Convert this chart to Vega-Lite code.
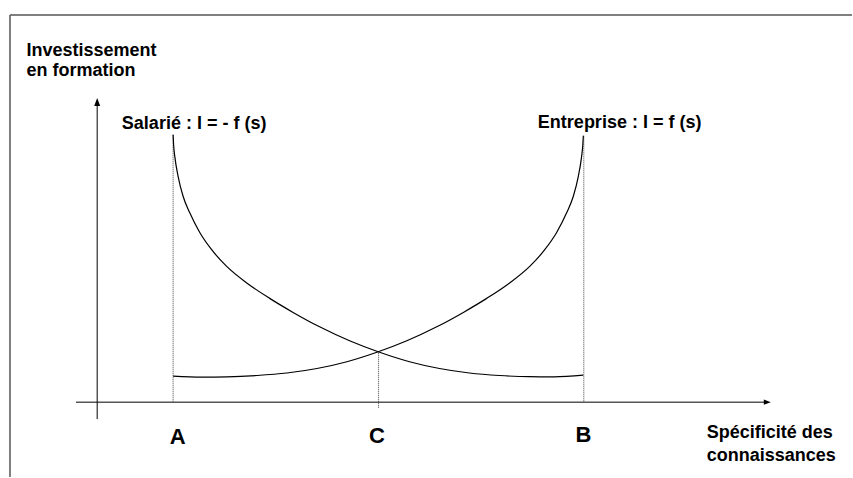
{
  "$schema": "https://vega.github.io/schema/vega-lite/v6.json",
  "width": 853,
  "height": 478,
  "autosize": {"type": "fit", "contains": "padding"},
  "padding": 0,
  "background": "white",
  "config": {"view": {"stroke": null}},
  "datasets": {
    "curves": [
      {"curve": "Salarié", "s": 173.3, "I": 343},
      {"curve": "Salarié", "s": 173.8, "I": 333},
      {"curve": "Salarié", "s": 175, "I": 321.3},
      {"curve": "Salarié", "s": 178.3, "I": 301.3},
      {"curve": "Salarié", "s": 183.3, "I": 281.3},
      {"curve": "Salarié", "s": 190, "I": 264.7},
      {"curve": "Salarié", "s": 200, "I": 245},
      {"curve": "Salarié", "s": 211.7, "I": 228},
      {"curve": "Salarié", "s": 226.7, "I": 211.3},
      {"curve": "Salarié", "s": 246.7, "I": 194.7},
      {"curve": "Salarié", "s": 270, "I": 179},
      {"curve": "Salarié", "s": 293, "I": 165.2},
      {"curve": "Salarié", "s": 320, "I": 150.5},
      {"curve": "Salarié", "s": 350, "I": 136.5},
      {"curve": "Salarié", "s": 380, "I": 125},
      {"curve": "Salarié", "s": 410, "I": 115.5},
      {"curve": "Salarié", "s": 440, "I": 108.7},
      {"curve": "Salarié", "s": 470, "I": 104.2},
      {"curve": "Salarié", "s": 500, "I": 101.7},
      {"curve": "Salarié", "s": 530, "I": 100.5},
      {"curve": "Salarié", "s": 555, "I": 100.4},
      {"curve": "Salarié", "s": 584, "I": 102},
      {"curve": "Entreprise", "s": 173.3, "I": 101},
      {"curve": "Entreprise", "s": 202.3, "I": 100},
      {"curve": "Entreprise", "s": 227.3, "I": 100.3},
      {"curve": "Entreprise", "s": 257.3, "I": 101.7},
      {"curve": "Entreprise", "s": 287.3, "I": 104.2},
      {"curve": "Entreprise", "s": 317.3, "I": 108.7},
      {"curve": "Entreprise", "s": 347.3, "I": 115.5},
      {"curve": "Entreprise", "s": 377.3, "I": 125},
      {"curve": "Entreprise", "s": 407.3, "I": 136.5},
      {"curve": "Entreprise", "s": 437.3, "I": 150.5},
      {"curve": "Entreprise", "s": 464.3, "I": 165.2},
      {"curve": "Entreprise", "s": 487.3, "I": 179},
      {"curve": "Entreprise", "s": 510.6, "I": 194.7},
      {"curve": "Entreprise", "s": 530.6, "I": 211.3},
      {"curve": "Entreprise", "s": 545.6, "I": 228},
      {"curve": "Entreprise", "s": 557.3, "I": 245},
      {"curve": "Entreprise", "s": 567.3, "I": 264.7},
      {"curve": "Entreprise", "s": 574, "I": 281.3},
      {"curve": "Entreprise", "s": 579, "I": 301.3},
      {"curve": "Entreprise", "s": 582.3, "I": 321.3},
      {"curve": "Entreprise", "s": 583.5, "I": 333},
      {"curve": "Entreprise", "s": 584, "I": 342}
    ],
    "dotted": [
      {"x": 173.3, "x2": 173.3, "y": 343, "y2": 75},
      {"x": 379, "x2": 379, "y": 124.5, "y2": 69},
      {"x": 584.5, "x2": 584.5, "y": 342, "y2": 75}
    ],
    "axes": [
      {"x": 97.3, "x2": 97.3, "y": 58, "y2": 374},
      {"x": 76, "x2": 766, "y": 75, "y2": 75}
    ],
    "border": [
      {"x": 10, "x2": 853, "y": 463, "y2": 463},
      {"x": 10, "x2": 10, "y": 0, "y2": 463}
    ],
    "arrowUp": [{"x": 97.3, "y": 375.7}],
    "arrowRight": [{"x": 768.2, "y": 75}],
    "labels": [
      {"text": "Investissement", "x": 26.5, "y": 422},
      {"text": "en formation", "x": 26.5, "y": 402},
      {"text": "Salarié : I = - f (s)", "x": 122, "y": 349},
      {"text": "Entreprise : I = f (s)", "x": 538.5, "y": 349.5},
      {"text": "Spécificité des", "x": 707.5, "y": 39},
      {"text": "connaissances", "x": 707.5, "y": 16.5}
    ],
    "points": [
      {"text": "A", "x": 178, "y": 33},
      {"text": "C", "x": 377.5, "y": 34},
      {"text": "B", "x": 584, "y": 35.5}
    ]
  },
  "layer": [
    {
      "data": {"name": "border"},
      "mark": {"type": "rule", "color": "#555555", "strokeWidth": 1.5},
      "encoding": {
        "x": {"field": "x", "type": "quantitative", "scale": {"domain": [0, 853], "nice": false, "zero": false}, "axis": null},
        "x2": {"field": "x2"},
        "y": {"field": "y", "type": "quantitative", "scale": {"domain": [0, 478], "nice": false, "zero": false}, "axis": null},
        "y2": {"field": "y2"}
      }
    },
    {
      "data": {"name": "dotted"},
      "mark": {"type": "rule", "color": "#444444", "strokeWidth": 1, "strokeDash": [1, 1]},
      "encoding": {
        "x": {"field": "x", "type": "quantitative"},
        "x2": {"field": "x2"},
        "y": {"field": "y", "type": "quantitative"},
        "y2": {"field": "y2"}
      }
    },
    {
      "data": {"name": "axes"},
      "mark": {"type": "rule", "color": "#000000", "strokeWidth": 1},
      "encoding": {
        "x": {"field": "x", "type": "quantitative"},
        "x2": {"field": "x2"},
        "y": {"field": "y", "type": "quantitative"},
        "y2": {"field": "y2"}
      }
    },
    {
      "data": {"name": "arrowUp"},
      "mark": {"type": "point", "shape": "M0,-1L-0.75,1L0.75,1Z", "size": 64, "filled": true, "color": "#000000", "opacity": 1, "strokeWidth": 0},
      "encoding": {
        "x": {"field": "x", "type": "quantitative"},
        "y": {"field": "y", "type": "quantitative"}
      }
    },
    {
      "data": {"name": "arrowRight"},
      "mark": {"type": "point", "shape": "M1,0L-1,-0.75L-1,0.75Z", "size": 49, "filled": true, "color": "#000000", "opacity": 1, "strokeWidth": 0},
      "encoding": {
        "x": {"field": "x", "type": "quantitative"},
        "y": {"field": "y", "type": "quantitative"}
      }
    },
    {
      "data": {"name": "curves"},
      "mark": {"type": "line", "color": "#000000", "strokeWidth": 1.2, "interpolate": "monotone"},
      "encoding": {
        "x": {"field": "s", "type": "quantitative"},
        "y": {"field": "I", "type": "quantitative"},
        "detail": {"field": "curve"},
        "order": {"field": "s", "type": "quantitative"}
      }
    },
    {
      "data": {"name": "labels"},
      "mark": {"type": "text", "font": "Liberation Sans", "fontWeight": "bold", "fontSize": 18, "align": "left", "baseline": "alphabetic", "color": "#000000"},
      "encoding": {
        "x": {"field": "x", "type": "quantitative"},
        "y": {"field": "y", "type": "quantitative"},
        "text": {"field": "text"}
      }
    },
    {
      "data": {"name": "points"},
      "mark": {"type": "text", "font": "Liberation Sans", "fontWeight": "bold", "fontSize": 22, "align": "center", "baseline": "alphabetic", "color": "#000000"},
      "encoding": {
        "x": {"field": "x", "type": "quantitative"},
        "y": {"field": "y", "type": "quantitative"},
        "text": {"field": "text"}
      }
    }
  ]
}
